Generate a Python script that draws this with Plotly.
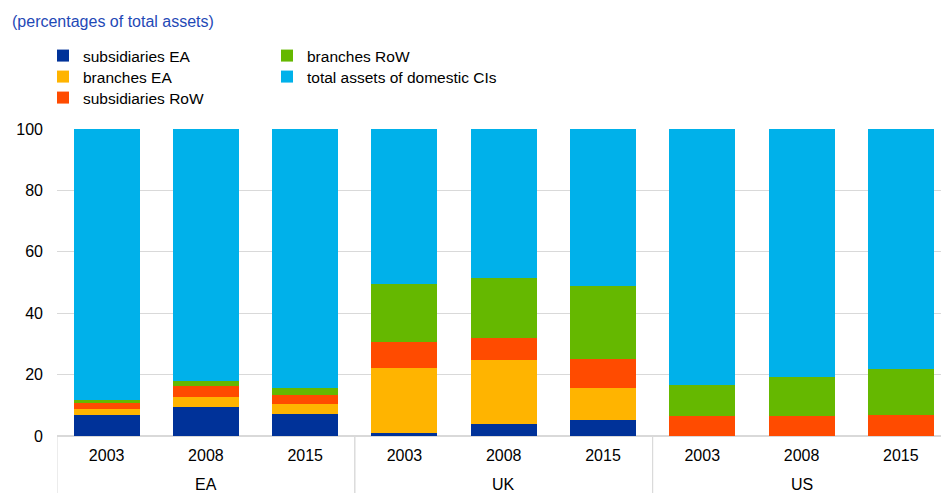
import plotly.graph_objects as go

regions = ["EA", "EA", "EA", "UK", "UK", "UK", "US", "US", "US"]
years = ["2003", "2008", "2015", "2003", "2008", "2015", "2003", "2008", "2015"]

subsidiaries_ea = [6.9, 9.4, 7.2, 0.9, 3.9, 5.2, 0.0, 0.0, 0.0]
branches_ea = [1.8, 3.3, 3.3, 21.1, 20.7, 10.4, 0.0, 0.0, 0.0]
subsidiaries_row = [2.0, 3.5, 2.9, 8.7, 7.3, 9.6, 6.4, 6.6, 6.9]
branches_row = [0.9, 1.8, 2.3, 18.7, 19.7, 23.7, 10.1, 12.7, 14.8]
domestic = [88.4, 82.0, 84.3, 50.6, 48.4, 51.1, 83.5, 80.7, 78.3]

# name, values, colour, legend id, legend position (px from left, px from top)
series = [
    ("subsidiaries EA", subsidiaries_ea, "#003299", "legend", (43, 39)),
    ("branches EA", branches_ea, "#FFB400", "legend2", (43, 60)),
    ("subsidiaries RoW", subsidiaries_row, "#FF4B00", "legend3", (43, 81)),
    ("branches RoW", branches_row, "#65B800", "legend4", (267, 39)),
    ("total assets of domestic CIs", domestic, "#00B1EA", "legend5", (267, 60)),
]

FONT = "Arial, Liberation Sans, sans-serif"
W, H = 941, 500
M_L, M_R, M_T, M_B = 57, 0, 129, 64
PW, PH = W - M_L - M_R, H - M_T - M_B

categories = [f"{r} {y}" for r, y in zip(regions, years)]

fig = go.Figure()
legends = {}
for name, vals, color, leg, (lx, ly) in series:
    fig.add_trace(go.Bar(
        x=categories, y=vals, name=name,
        marker=dict(color=color, line=dict(width=0)),
        legend=leg, showlegend=True,
    ))
    legends[leg] = dict(
        xref="container", yref="container",
        x=lx / W, y=1 - ly / H,
        xanchor="left", yanchor="top",
        orientation="v", bgcolor="rgba(0,0,0,0)",
        font=dict(family=FONT, size=15.5, color="#000000"),
        itemclick=False, itemdoubleclick=False,
    )

# group labels and dividers
group_names = []
for r in regions:
    if r not in group_names:
        group_names.append(r)
annotations = []
shapes = []
for g in group_names:
    idx = [i for i, r in enumerate(regions) if r == g]
    annotations.append(dict(
        text=g, x=(idx[0] + idx[-1]) / 2, xref="x",
        y=-(484 - (M_T + PH)) / PH, yref="paper",
        showarrow=False, xanchor="center", yanchor="middle",
        font=dict(family=FONT, size=16, color="#000000"),
    ))
    for b in (idx[0] - 0.5, idx[-1] + 0.5):
        shapes.append(dict(
            type="line", xref="x", yref="paper",
            x0=b, x1=b, y0=0, y1=-(493 - (M_T + PH)) / PH,
            line=dict(color="#d9d9d9", width=1), layer="above",
        ))

annotations.append(dict(
    text="(percentages of total assets)",
    xref="paper", yref="paper",
    x=(10 - M_L) / PW, y=1 + (M_T - 21) / PH,
    showarrow=False, xanchor="left", yanchor="middle",
    font=dict(family=FONT, size=16, color="#1f49b6"),
))

fig.update_layout(
    width=W, height=H, showlegend=True,
    barmode="stack", bargap=0.335,
    plot_bgcolor="white", paper_bgcolor="white",
    margin=dict(l=M_L, r=M_R, t=M_T, b=M_B, autoexpand=False),
    font=dict(family=FONT, size=16, color="#000000"),
    xaxis=dict(
        type="category", range=[-0.5, 8.405],
        tickmode="array", tickvals=categories, ticktext=years,
        showgrid=False, showline=True, linecolor="#d9d9d9", linewidth=1,
        ticks="", tickfont=dict(family=FONT, size=16, color="#000000"),
        ticklabelstandoff=5,
    ),
    yaxis=dict(
        range=[0, 100], dtick=20, showgrid=True, gridcolor="#d9d9d9",
        gridwidth=1, zeroline=True, zerolinecolor="#d9d9d9",
        ticks="", tickfont=dict(family=FONT, size=16, color="#000000"),
        ticklabelstandoff=13,
    ),
    annotations=annotations,
    shapes=shapes,
    **legends,
)

fig.write_html(
    "out.html",
    config={"displayModeBar": False},
    post_script="document.body.style.margin='0';",
)
